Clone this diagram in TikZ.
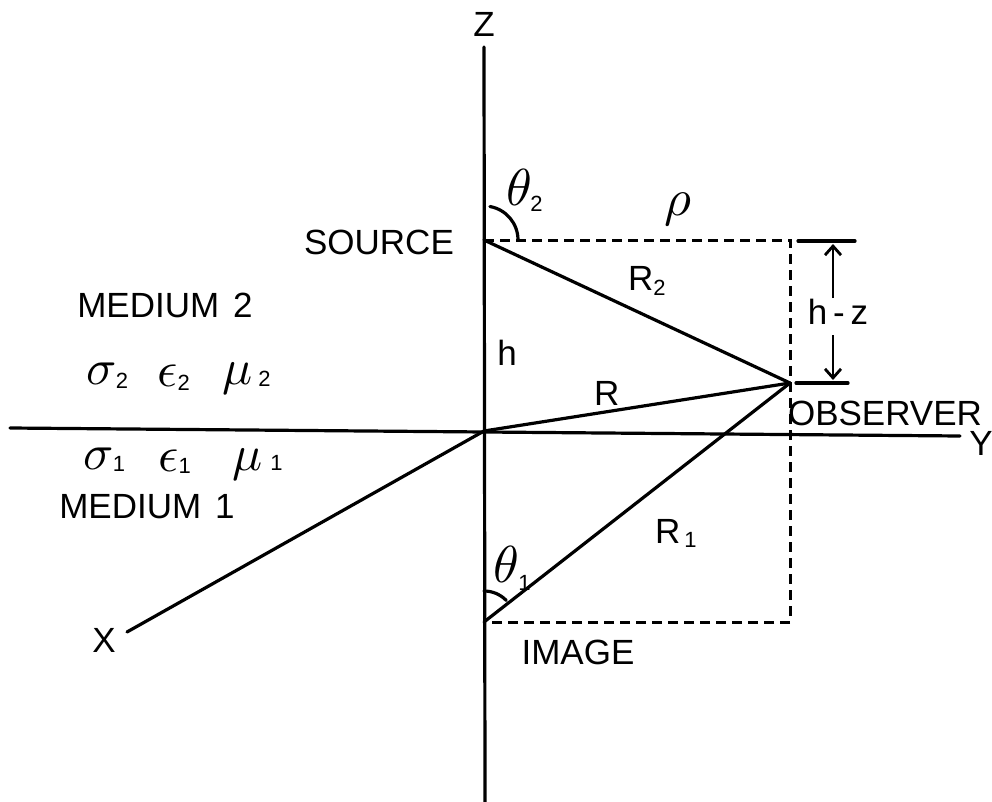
\documentclass[tikz,border=0pt]{standalone}
\usepackage{fontspec}
\usepackage{unicode-math}
\setmainfont{Liberation Sans}
\setsansfont{Liberation Sans}
\setmathfont{Latin Modern Math}
\usetikzlibrary{arrows.meta}
\newcommand{\sbs}[2][-5pt]{\raisebox{#1}{\fontsize{22}{22}\selectfont #2}}
\begin{document}
\begin{tikzpicture}[x=1pt,y=-1pt,
  ln/.style={line width=3.2pt,line cap=round},
  dsh/.style={line width=3pt,dash pattern=on 10pt off 6pt},
  arr/.style={line width=2.8pt,-{Straight Barb[length=9pt,width=16pt,line width=2.8pt]}},
  lbl/.style={inner sep=0pt,font=\fontsize{35}{40}\selectfont},
  grk/.style={inner sep=0pt,anchor=base west,font=\fontsize{50}{54}\selectfont},
  big/.style={inner sep=0pt,anchor=base west,font=\fontsize{52}{56}\selectfont}]
\useasboundingbox (0,0) rectangle (992,802);
% key points
\coordinate (ztop) at (484,47);
\coordinate (zbot) at (485,802);
\coordinate (yl) at (10,428);
\coordinate (yr) at (960,436);
\coordinate (O) at (484,431);
\coordinate (S) at (484,240);
\coordinate (Obs) at (790,383);
\coordinate (I) at (484,622);
\coordinate (Xe) at (127,632);
\coordinate (cTR) at (790,240);
\coordinate (cBR) at (790,622);
% axes
\draw[ln] (ztop) -- (zbot);
\draw[ln] (yl) -- (yr);
\draw[ln] (O) -- (Xe);
% distances
\draw[ln] (S) -- (Obs);
\draw[ln] (O) -- (Obs);
\draw[ln] (I) -- (Obs);
% dashed frame
\draw[dsh] (S) -- (cTR) -- (cBR) -- (I);
% angle arcs
\draw[ln] (S) ++(-80:34) arc[start angle=-80,end angle=0,radius=34];
\draw[ln] (I) ++(-90:31) arc[start angle=-90,end angle=-44,radius=31];
% h-z dimension
\coordinate (t1) at (798,241);
\coordinate (t2) at (855,241);
\coordinate (b1) at (796,383);
\coordinate (b2) at (848,383);
\draw[ln] (t1) -- (t2);
\draw[ln] (b1) -- (b2);
\node[lbl] (hz) at (838,312) {h\,-\,z};
\coordinate (a1s) at (833,298);
\coordinate (a1e) at (833,244);
\coordinate (a2s) at (833,335);
\coordinate (a2e) at (833,380);
\draw[arr] (a1s) -- (a1e);
\draw[arr] (a2s) -- (a2e);
% labels
\node[lbl] (zl) at (484,24) {Z};
\node[lbl] (yla) at (981,443) {Y};
\node[lbl] (xl) at (104,640) {X};
\node[lbl] (src) at (379,242) {SOURCE};
\node[lbl] (obs) at (885,413) {OBSERVER};
\node[lbl] (img) at (578,652) {IMAGE};
\node[lbl] (m2) at (165,305) {MEDIUM\hspace{14pt}2};
\node[lbl] (m1) at (147,507) {MEDIUM\hspace{14pt}1};
\node[lbl] (hl) at (507,353) {h};
\node[lbl,anchor=base west] (rl) at (594,405) {R};
\node[lbl,anchor=base west] (r2) at (628,290) {R\sbs{2}};
\node[lbl,anchor=base west] (r1) at (655,543) {R\hspace{4pt}\sbs[-4pt]{1}};
\node[big] (rho) at (664,215) {$\rho$};
\node[big] (th2) at (506,206) {$\theta$\hspace{-1pt}\sbs[-6pt]{2}};
\node[big] (th1) at (493,582) {$\theta$\hspace{0pt}\sbs[-8pt]{1}};
% media constants
\node[grk] (s2) at (86,384) {$\sigma$\sbs[-4pt]{2}};
\node[grk] (e2) at (157,386) {$\epsilon$\sbs[-4pt]{2}};
\node[grk] (u2) at (222,384) {$\mu$\hspace{6pt}\sbs[-2pt]{2}};
\node[grk] (s1) at (83,469) {$\sigma$\sbs[-2pt]{1}};
\node[grk] (e1) at (158,471) {$\epsilon$\sbs[-2pt]{1}};
\node[grk] (u1) at (232,470) {$\mu$\hspace{8pt}\sbs[0pt]{1}};
\end{tikzpicture}
\end{document}
